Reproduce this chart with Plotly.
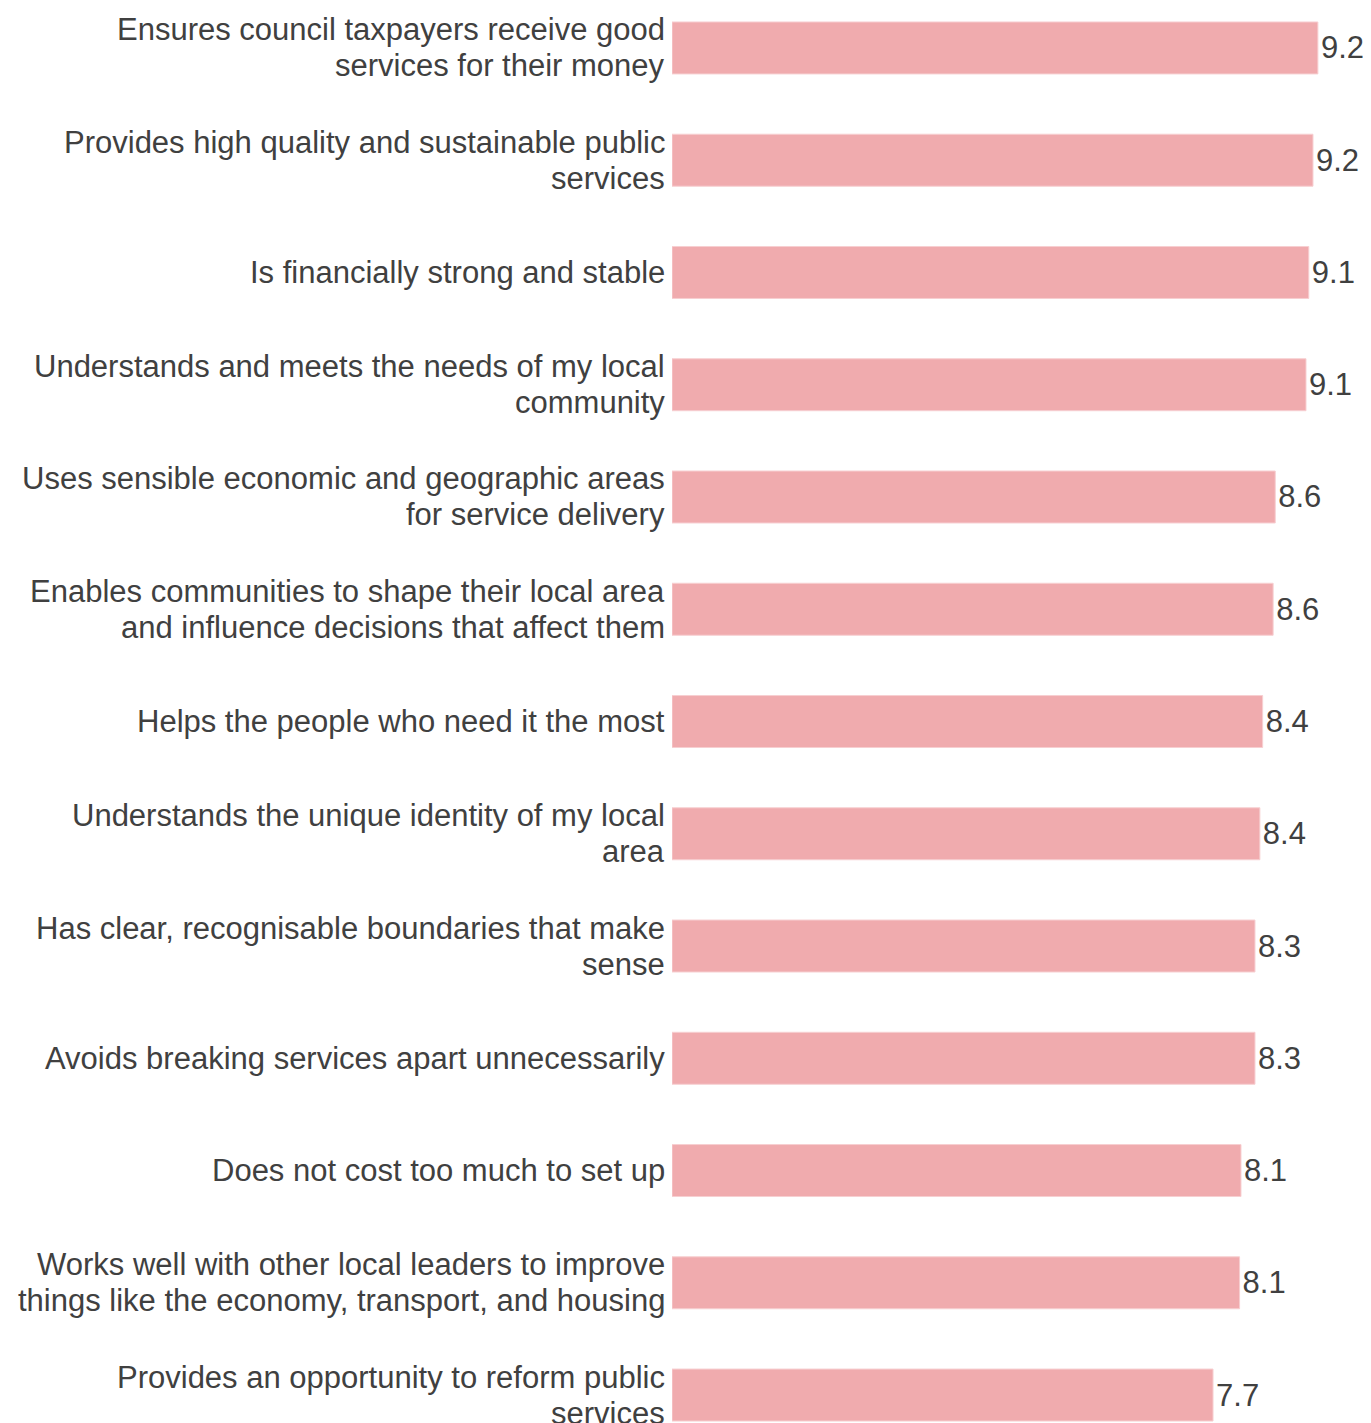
import plotly.graph_objects as go

categories = [
    ["Ensures council taxpayers receive good", "services for their money"],
    ["Provides high quality and sustainable public", "services"],
    ["Is financially strong and stable"],
    ["Understands and meets the needs of my local", "community"],
    ["Uses sensible economic and geographic areas", "for service delivery"],
    ["Enables communities to shape their local area", "and influence decisions that affect them"],
    ["Helps the people who need it the most"],
    ["Understands the unique identity of my local", "area"],
    ["Has clear, recognisable boundaries that make", "sense"],
    ["Avoids breaking services apart unnecessarily"],
    ["Does not cost too much to set up"],
    ["Works well with other local leaders to improve", "things like the economy, transport, and housing"],
    ["Provides an opportunity to reform public", "services"],
]
values = [9.24, 9.17, 9.11, 9.07, 8.63, 8.60, 8.45, 8.41, 8.34, 8.34, 8.14, 8.12, 7.74]

cat_keys = [" ".join(c) for c in categories]

BAR_COLOR = "#F0ABAE"
EDGE_COLOR = "#F7CFD1"
TEXT_COLOR = "#404040"
FONT = "Liberation Sans, Arial, sans-serif"
FS = 31
LINE_GAP = 36

fig = go.Figure()
fig.add_trace(go.Bar(
    x=values,
    y=cat_keys,
    orientation="h",
    width=0.463,
    marker=dict(color=BAR_COLOR, line=dict(color=EDGE_COLOR, width=1)),
    text=[f"{v:.1f}" for v in values],
    textposition="outside",
    textfont=dict(family=FONT, size=FS, color=TEXT_COLOR),
    cliponaxis=False,
    hoverinfo="skip",
))

annotations = []
for key, lines in zip(cat_keys, categories):
    n = len(lines)
    for i, line in enumerate(lines):
        offset = ((n - 1) / 2 - i) * LINE_GAP
        annotations.append(dict(
            text=line, xref="paper", x=0, xanchor="right", xshift=-5,
            yref="y", y=key, yanchor="middle", yshift=offset,
            showarrow=False,
            font=dict(family=FONT, size=FS, color=TEXT_COLOR),
        ))

fig.update_layout(
    width=1363, height=1415,
    margin=dict(l=664, r=0, t=0, b=0),
    paper_bgcolor="white", plot_bgcolor="white",
    showlegend=False,
    annotations=annotations,
    xaxis=dict(range=[0, 10], showgrid=False, zeroline=False, showticklabels=False,
               showline=False, ticks=""),
    yaxis=dict(type="category", categoryorder="array", categoryarray=cat_keys,
               range=[12.249, -0.356], showgrid=False, zeroline=False,
               showticklabels=False, showline=False, ticks=""),
)

fig.write_html("out.html")
